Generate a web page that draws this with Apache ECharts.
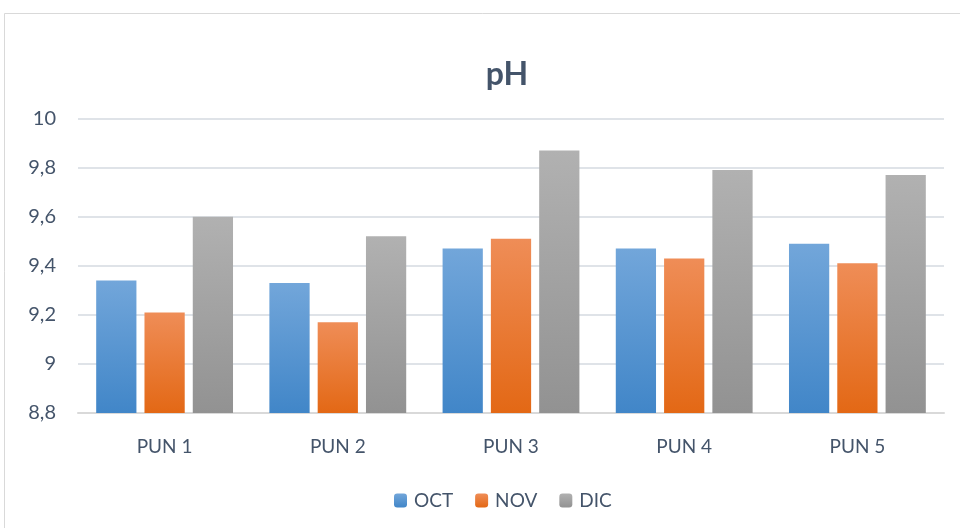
<!DOCTYPE html>
<html>
<head>
<meta charset="utf-8">
<script src="https://cdn.jsdelivr.net/npm/echarts@6/dist/echarts.min.js"></script>
<style>
  html, body { margin: 0; padding: 0; background: #fff; }
  #chart { width: 960px; height: 528px; }
</style>
</head>
<body>
<div id="chart"></div>
<script>
const categories = ['PUN 1', 'PUN 2', 'PUN 3', 'PUN 4', 'PUN 5']
const octData = [9.34, 9.33, 9.47, 9.47, 9.49]
const novData = [9.21, 9.17, 9.51, 9.43, 9.41]
const dicData = [9.60, 9.52, 9.87, 9.79, 9.77]

const textColor = '#44546a'
const font = 'Lato'

function grad(top, bottom) {
  return new echarts.graphic.LinearGradient(0, 0, 0, 1, [
    { offset: 0, color: top },
    { offset: 1, color: bottom }
  ])
}

const chart = echarts.init(document.getElementById('chart'))
chart.setOption({
  backgroundColor: '#fff',
  animation: false,
  graphic: [{
    type: 'rect',
    shape: { x: 4.5, y: 13.5, width: 1000, height: 600 },
    style: { fill: 'none', stroke: '#d9d9d9', lineWidth: 1 },
    z: -1
  }],
  title: {
    text: 'pH',
    left: 502,
    textAlign: 'center',
    top: 54,
    textStyle: { color: textColor, fontSize: 32, fontWeight: 'bold', fontFamily: font }
  },
  legend: {
    data: ['OCT', 'NOV', 'DIC'],
    left: 389,
    top: 486,
    itemWidth: 13,
    itemHeight: 14,
    itemGap: 22,
    textStyle: { color: textColor, fontSize: 19, fontFamily: font, padding: [0, 0, 0, 2] }
  },
  grid: { left: 78, right: 16, top: 118.5, bottom: 115 },
  xAxis: {
    type: 'category',
    data: categories,
    axisTick: { show: false },
    axisLine: { lineStyle: { color: '#d9d9d9', width: 2 } },
    axisLabel: { color: textColor, fontSize: 19, fontFamily: font, margin: 24 }
  },
  yAxis: {
    type: 'value',
    min: 8.8,
    max: 10,
    interval: 0.2,
    axisLine: { show: false },
    axisTick: { show: false },
    splitLine: { lineStyle: { color: '#dfe3e8', width: 2 } },
    axisLabel: {
      color: textColor, fontSize: 20, fontFamily: font, margin: 22,
      formatter: v => String(parseFloat(v.toFixed(1))).replace('.', ',')
    }
  },
  series: [
    { name: 'OCT', type: 'bar', data: octData, barGap: '20%', barCategoryGap: '21%',
      itemStyle: { color: grad('#72a6da', '#4186c8') } },
    { name: 'NOV', type: 'bar', data: novData, barGap: '20%', barCategoryGap: '21%',
      itemStyle: { color: grad('#ef8d57', '#e36815') } },
    { name: 'DIC', type: 'bar', data: dicData, barGap: '20%', barCategoryGap: '21%',
      itemStyle: { color: grad('#b1b1b1', '#929292') } }
  ]
})
</script>
</body>
</html>
